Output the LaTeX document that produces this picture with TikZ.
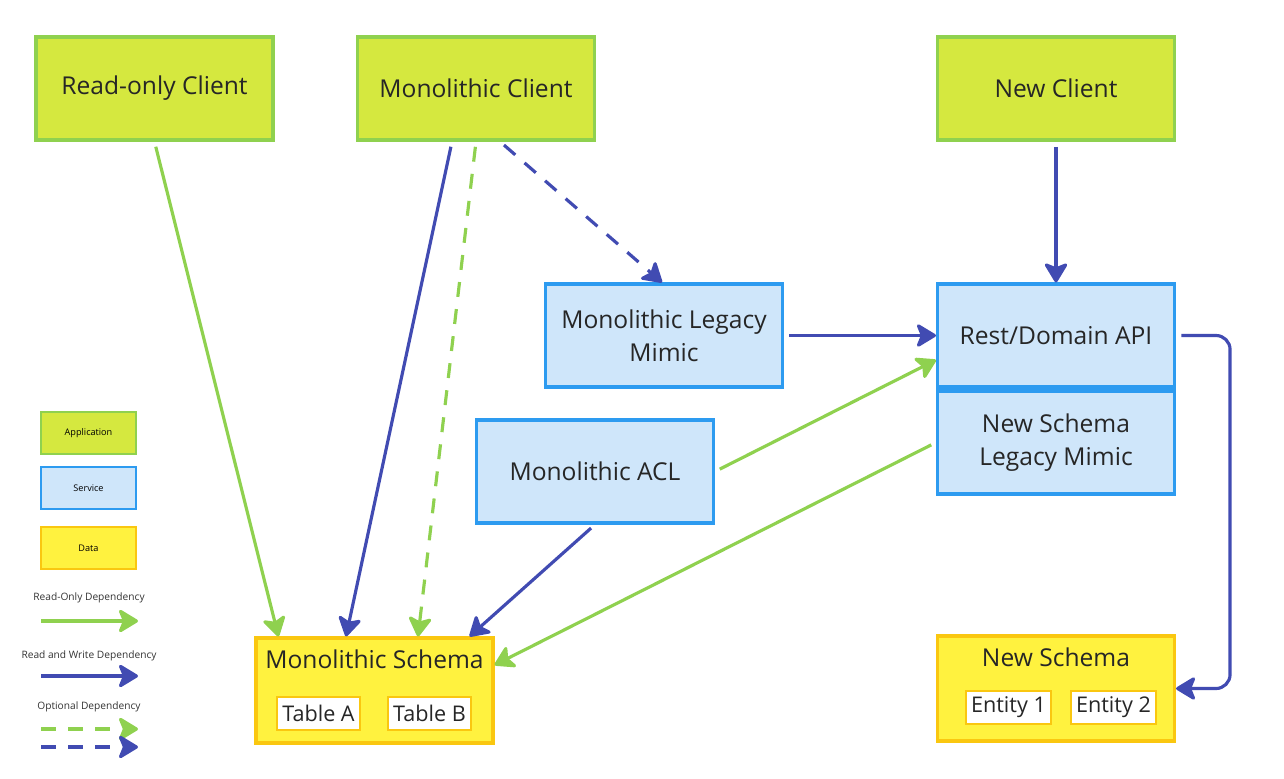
\documentclass[tikz,border=0pt]{standalone}
\usepackage{fontspec}
\setmainfont{Open Sans}
\usetikzlibrary{arrows.meta,positioning}
\definecolor{appfill}{HTML}{D5E83F}
\definecolor{appline}{HTML}{8FD14F}
\definecolor{svcfill}{HTML}{CFE6FA}
\definecolor{svcline}{HTML}{2D9BF0}
\definecolor{datafill}{HTML}{FFF23F}
\definecolor{dataline}{HTML}{FAC710}
\definecolor{roline}{HTML}{8FD14F}
\definecolor{rwline}{HTML}{414BB2}
\tikzset{
    x=0.02cm, y=-0.02cm,
    >={Stealth[length=12.5pt,width=15pt,inset=3pt,round]},
    box/.style = {draw, line width=1.8pt, minimum width=4.74cm, minimum height=2.06cm,
                  align=center, text=black!85, font=\fontsize{14}{19}\selectfont},
    app/.style = {box, draw=appline, fill=appfill},
    svc/.style = {box, draw=svcline, fill=svcfill},
    data/.style = {box, draw=dataline, fill=datafill},
    tbl/.style = {draw=dataline, fill=white, line width=1.6pt, inner sep=2pt,
                  minimum height=0.66cm, text=black!85, font=\fontsize{12.3}{14}\selectfont},
    key/.style = {draw, line width=1.4pt, minimum width=1.9cm, minimum height=0.84cm,
                  font=\fontsize{5.2}{6}\selectfont},
    keytext/.style = {font=\fontsize{5.8}{7}\selectfont, text=black!80},
    ro/.style = {->, line width=1.8pt, draw=roline},
    rw/.style = {->, line width=1.8pt, draw=rwline},
    opt/.style = {dash pattern=on 8.5pt off 7pt}
}
\begin{document}
\begin{tikzpicture}
    \useasboundingbox (0,0) rectangle (1284,778);

    % applications
    \node[app] (roc) at (154.5,88.5) {Read-only Client};
    \node[app] (mc) at (476,88.5) {Monolithic Client};
    \node[app] (nc) at (1056,88.5) {New Client};

    % services
    \node[svc] (mlm) at (664,335.5) {Monolithic Legacy\\Mimic};
    \node[svc] (rest) at (1056,335.5) {Rest/Domain API};
    \node[svc] (nslm) at (1056,442.5) {New Schema\\Legacy Mimic};
    \node[svc] (acl) at (595,471.5) {Monolithic ACL};

    % data
    \node[data, minimum height=2.1cm] (ms) at (374.5,690.5) {};
    \node[font=\fontsize{14}{16}\selectfont, text=black!85] (mstitle) at (374.5,659) {Monolithic Schema};
    \node[tbl, minimum width=1.66cm] (ta) at (318.5,713.5) {Table A};
    \node[tbl, minimum width=1.66cm] (tb) at (429.5,713.5) {Table B};

    \node[data, minimum height=2.1cm] (ns) at (1056,688.5) {};
    \node[font=\fontsize{14}{16}\selectfont, text=black!85] (nstitle) at (1056,657) {New Schema};
    \node[tbl, minimum width=1.7cm] (e1) at (1008.5,707.5) {Entity 1};
    \node[tbl, minimum width=1.7cm] (e2) at (1113.5,707.5) {Entity 2};

    % dependencies
    \draw[ro, shorten <=3pt] (roc.south) -- ([xshift=0.48cm]ms.north west);
    \draw[rw, shorten <=3pt] ([xshift=-0.48cm]mc.south) -- ([xshift=-0.57cm]ms.north);
    \draw[ro, opt, shorten <=3pt] (mc.south) -- ([xshift=0.87cm]ms.north);
    \draw[rw, opt, shorten <=3pt] ([xshift=0.48cm]mc.south) -- ([xshift=-0.04cm]mlm.north);
    \draw[rw, shorten <=3pt] (nc.south) -- (rest.north);
    \draw[rw, shorten <=3pt] (mlm.east) -- (rest.west);
    \draw[ro, shorten <=3pt] (acl.east) -- ([yshift=-0.49cm]rest.west);
    \draw[rw, shorten <=3pt] (acl.south) -- ([xshift=-0.5cm]ms.north east);
    \draw[ro, shorten <=3pt] (nslm.west) -- ([yshift=0.51cm]ms.east);
    \draw[rw, rounded corners=8pt, shorten <=3pt] (rest.east) -- ++(54,0) |- (ns.east);

    % legend
    \node[key, draw=appline, fill=appfill] (kapp) at (88.5,433) {Application};
    \node[key, draw=svcline, fill=svcfill] (ksvc) at (88.5,488) {Service};
    \node[key, draw=dataline, fill=datafill] (kdata) at (88.5,548) {Data};

    \node[keytext] (kro) at (89,598) {Read-Only Dependency};
    \coordinate (kro1) at (41,621);
    \coordinate (kro2) at (138,621);
    \draw[ro] (kro1) -- (kro2);

    \node[keytext] (krw) at (89,656) {Read and Write Dependency};
    \coordinate (krw1) at (41,676);
    \coordinate (krw2) at (138,676);
    \draw[rw] (krw1) -- (krw2);

    \node[keytext] (kopt) at (89,707) {Optional Dependency};
    \coordinate (kog1) at (41,729);
    \coordinate (kog2) at (138,729);
    \coordinate (kob1) at (41,747);
    \coordinate (kob2) at (138,747);
    \draw[ro, opt] (kog1) -- (kog2);
    \draw[rw, opt] (kob1) -- (kob2);

\end{tikzpicture}
\end{document}
